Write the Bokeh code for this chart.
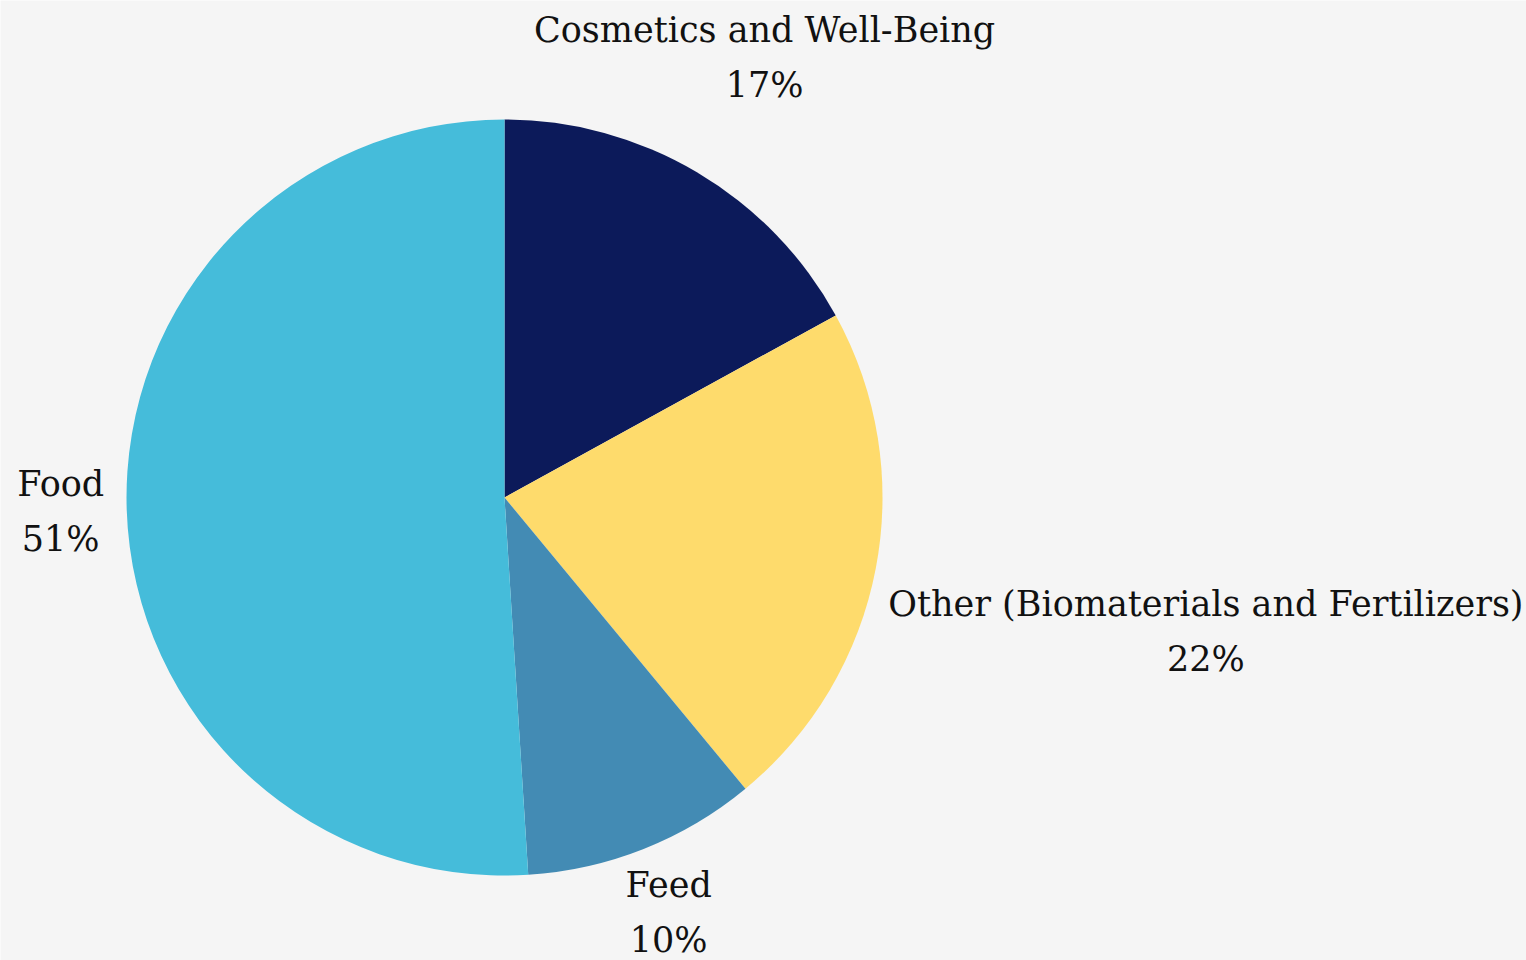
import math
from bokeh.plotting import figure
from bokeh.models import ColumnDataSource, Range1d
from bokeh.core.properties import value
from bokeh.embed import file_html
from bokeh.resources import INLINE

# ---- data ----
categories = ["Cosmetics and Well-Being", "Other (Biomaterials and Fertilizers)", "Feed", "Food"]
shares = [17, 22, 10, 51]
colors = ["#0c1a5a", "#fedb6c", "#438bb4", "#45bcda"]

# ---- layout ----
W, H = 1526, 960
CX, CY = 504, H - 497
R = 378
label_dist = {"Cosmetics and Well-Being": 511,
              "Other (Biomaterials and Fertilizers)": 714,
              "Feed": 446,
              "Food": 444}

total = float(sum(shares))
starts, ends, mids = [], [], []
cum = 0.0
for s in shares:
    a0 = cum / total
    cum += s
    a1 = cum / total
    # clockwise from 12 o'clock -> bokeh anticlock angles
    starts.append(math.pi / 2 - a1 * 2 * math.pi)
    ends.append(math.pi / 2 - a0 * 2 * math.pi)
    mids.append((a0 + a1) / 2 * 2 * math.pi)

src = ColumnDataSource(dict(cat=categories, share=shares, color=colors,
                            start=starts, end=ends,
                            x=[CX] * len(shares), y=[CY] * len(shares)))

p = figure(width=W, height=H, output_backend="svg", toolbar_location=None,
           x_range=Range1d(0, W), y_range=Range1d(0, H),
           background_fill_color="#f5f5f5", border_fill_color="#f5f5f5",
           min_border=0, outline_line_color=None)
p.axis.visible = False
p.grid.visible = False

p.wedge(x="x", y="y", radius=R, start_angle="start", end_angle="end",
        direction="anticlock", fill_color="color", line_color=None, source=src)

lx, ly, lt = [], [], []
for c, s, m in zip(categories, shares, mids):
    d = label_dist[c]
    lx.append(CX + d * math.sin(m))
    ly.append(CY + d * math.cos(m))
    lt.append(f"{c}\n{s}%")

lsrc = ColumnDataSource(dict(x=lx, y=ly, t=lt))
p.text(x="x", y="y", text="t", source=lsrc, text_align="center",
       text_baseline="middle", text_font=value("DejaVu Serif"),
       text_font_size="35px", text_color="#111111", text_line_height=1.38)

open("out.html", "w").write(file_html(p, INLINE))
